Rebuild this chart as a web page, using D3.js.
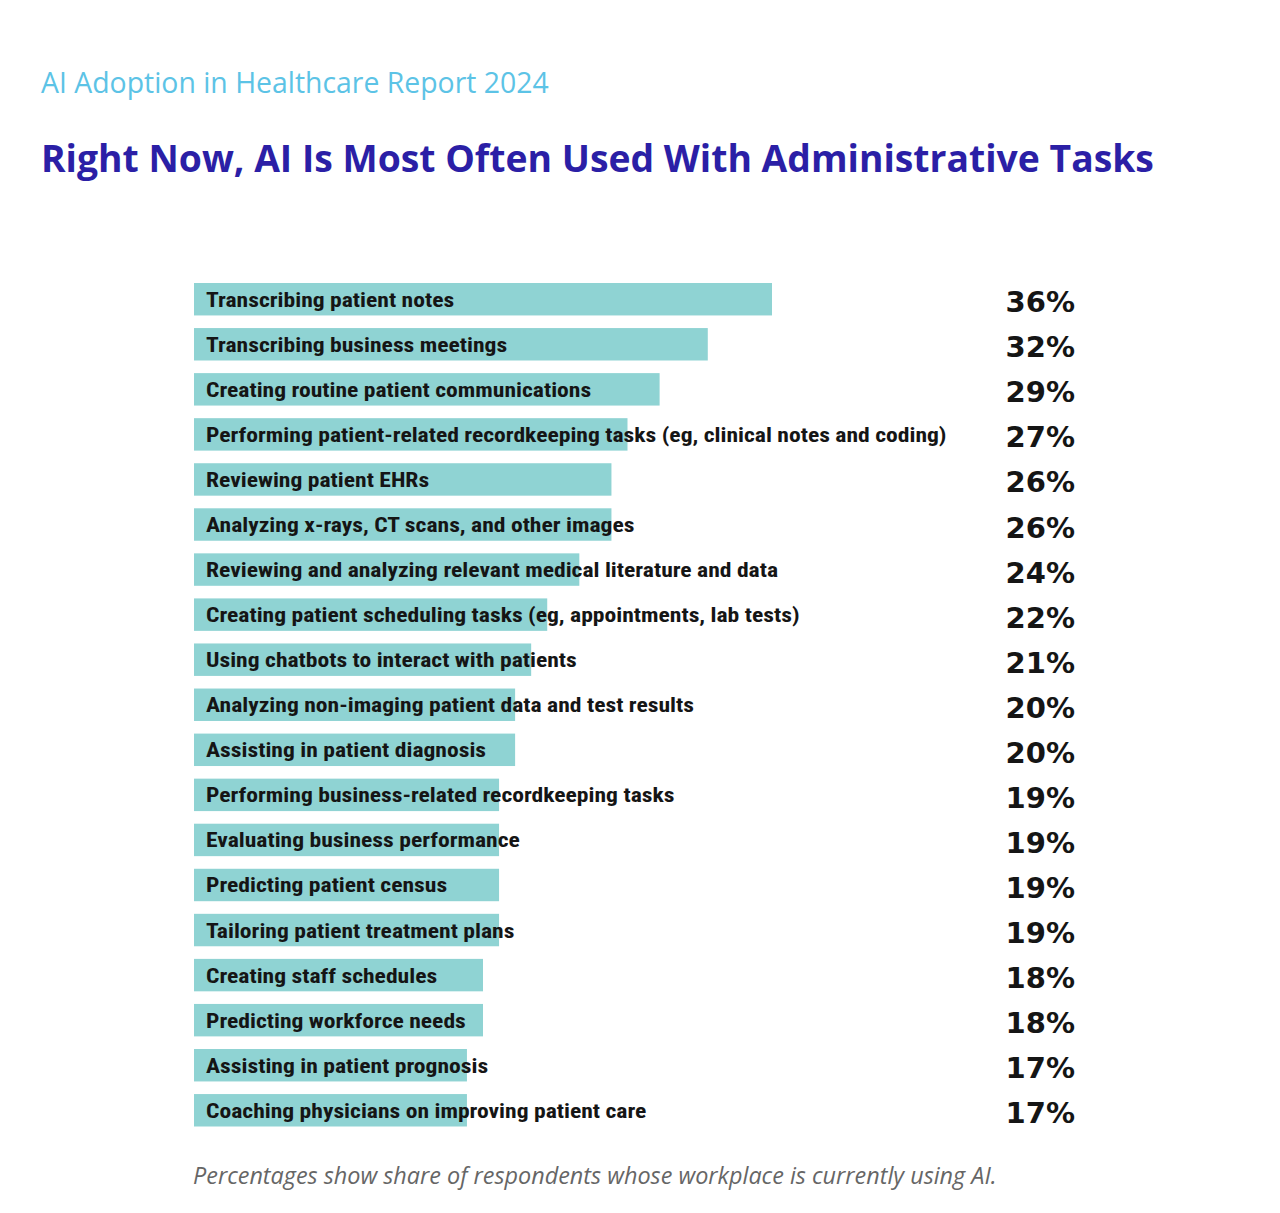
<!DOCTYPE html>
<html>
<head>
<meta charset="utf-8">
<script src="https://cdn.jsdelivr.net/npm/d3@7"></script>
<style>
  html, body { margin: 0; padding: 0; background: #ffffff; }
  svg { display: block; }
</style>
</head>
<body>
<svg id="chart" width="1280" height="1213"></svg>
<script>
const categories = [
  "Transcribing patient notes",
  "Transcribing business meetings",
  "Creating routine patient communications",
  "Performing patient-related recordkeeping tasks (eg, clinical notes and coding)",
  "Reviewing patient EHRs",
  "Analyzing x-rays, CT scans, and other images",
  "Reviewing and analyzing relevant medical literature and data",
  "Creating patient scheduling tasks (eg, appointments, lab tests)",
  "Using chatbots to interact with patients",
  "Analyzing non-imaging patient data and test results",
  "Assisting in patient diagnosis",
  "Performing business-related recordkeeping tasks",
  "Evaluating business performance",
  "Predicting patient census",
  "Tailoring patient treatment plans",
  "Creating staff schedules",
  "Predicting workforce needs",
  "Assisting in patient prognosis",
  "Coaching physicians on improving patient care"
];
const values = [36, 32, 29, 27, 26, 26, 24, 22, 21, 20, 20, 19, 19, 19, 19, 18, 18, 17, 17];
const subtitleText = "AI Adoption in Healthcare Report 2024";
const titleText = "Right Now, AI Is Most Often Used With Administrative Tasks";
const footnoteText = "Percentages show share of respondents whose workplace is currently using AI.";

const data = categories.map((c, i) => ({ cat: c, val: values[i] }));
const svg = d3.select("#chart");

const x = d3.scaleLinear().domain([0, 36]).range([194, 772]);
const y = d3.scaleBand().domain(categories).range([283, 1126.5]).paddingInner(0.28).paddingOuter(0);

svg.append("text")
  .attr("x", 41).attr("y", 93)
  .attr("font-family", "'Open Sans', sans-serif")
  .attr("font-size", 28.4)
  .attr("fill", "#5cc3e6")
  .text(subtitleText);

svg.append("text")
  .attr("x", 41).attr("y", 172)
  .attr("font-family", "'Open Sans', sans-serif")
  .attr("font-weight", 700)
  .attr("font-size", 37.3)
  .attr("fill", "#2b1fa6")
  .text(titleText);

const rows = svg.append("g").selectAll("g").data(data).join("g");

rows.append("rect")
  .attr("x", x(0))
  .attr("y", d => y(d.cat))
  .attr("width", d => x(d.val) - x(0))
  .attr("height", y.bandwidth())
  .attr("fill", "#8fd3d3");

rows.append("text")
  .attr("class", "lbl")
  .attr("transform", d => `translate(206,${y(d.cat) + y.bandwidth() / 2 + 7.5}) scale(1.18,1)`)
  .attr("font-family", "'Roboto Condensed', 'Liberation Sans Narrow', 'DejaVu Sans Condensed', Roboto, sans-serif")
  .attr("font-stretch", "condensed")
  .attr("font-weight", 700)
  .attr("font-size", 20)
  .attr("fill", "#151515")
  .text(d => d.cat);

rows.append("text")
  .attr("x", 1075)
  .attr("y", d => y(d.cat) + y.bandwidth() / 2 + 13)
  .attr("text-anchor", "end")
  .attr("font-family", "'DejaVu Sans', sans-serif")
  .attr("font-weight", 700)
  .attr("font-size", 29)
  .attr("fill", "#151515")
  .text(d => d.val + "%");

svg.append("text")
  .attr("x", 193).attr("y", 1184)
  .attr("font-family", "'Open Sans', sans-serif")
  .attr("font-style", "italic")
  .attr("font-size", 23.4)
  .attr("fill", "#666666")
  .text(footnoteText);
</script>
</body>
</html>
